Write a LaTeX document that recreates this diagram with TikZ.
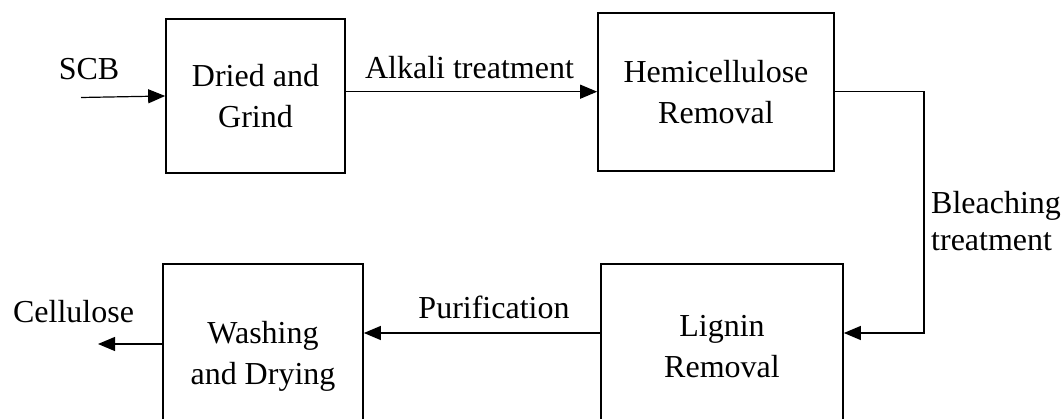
\documentclass[tikz,border=0pt]{standalone}
\usepackage{fontspec}
\setmainfont{Liberation Serif}
\usetikzlibrary{arrows.meta}
\usetikzlibrary{positioning}

\tikzset{
  stagebox/.style={draw,line width=1.7pt,align=center,inner sep=0pt},
  flowarrow/.style={line width=1.2pt,-{Triangle[length=17pt,width=14pt]}},
  tag/.style={inner sep=0pt}
}

\begin{document}
\begin{tikzpicture}[x=1pt,y=-1pt,font=\fontsize{32}{41}\selectfont]
      \clip (0,0) rectangle (1061,419);
      \node[stagebox,minimum width=179pt,minimum height=154pt] (dried) at (255.5,96) {Dried and\\Grind};
      \node[stagebox,minimum width=236pt,minimum height=158pt] (hemi) at (716,91.7) {Hemicellulose\\Removal};
      \node[stagebox,minimum width=242pt,minimum height=166pt] (lignin) at (722,347) {Lignin\\Removal};
      \node[stagebox,minimum width=200pt,minimum height=185pt] (washing) at (263,356.5) {Washing\\and Drying};

      \node[tag,anchor=base] (scb) at (89,80) {SCB};
      \node[tag,anchor=base] (alkali) at (469.5,79) {Alkali treatment};
      \node[tag,anchor=west,align=left,font=\fontsize{32}{37}\selectfont] (bleach) at (931,221) {Bleaching\\treatment};
      \node[tag,anchor=base] (purif) at (494,319) {Purification};
      \node[tag,anchor=base] (cellulose) at (73.5,323) {Cellulose};

      \coordinate (feed) at (81,97.5);
      \coordinate (turn) at (924,333);
      \coordinate (product) at (98,344);

      \draw[flowarrow] (feed) -- (dried.west);
      \draw[flowarrow] (hemi.west -| dried.east) -- (hemi.west);
      \draw[flowarrow] (hemi.east) -| (turn) -- (turn -| lignin.east);
      \draw[flowarrow] (turn -| lignin.west) -- (turn -| washing.east);
      \draw[flowarrow] (product -| washing.west) -- (product);
\end{tikzpicture}
\end{document}
